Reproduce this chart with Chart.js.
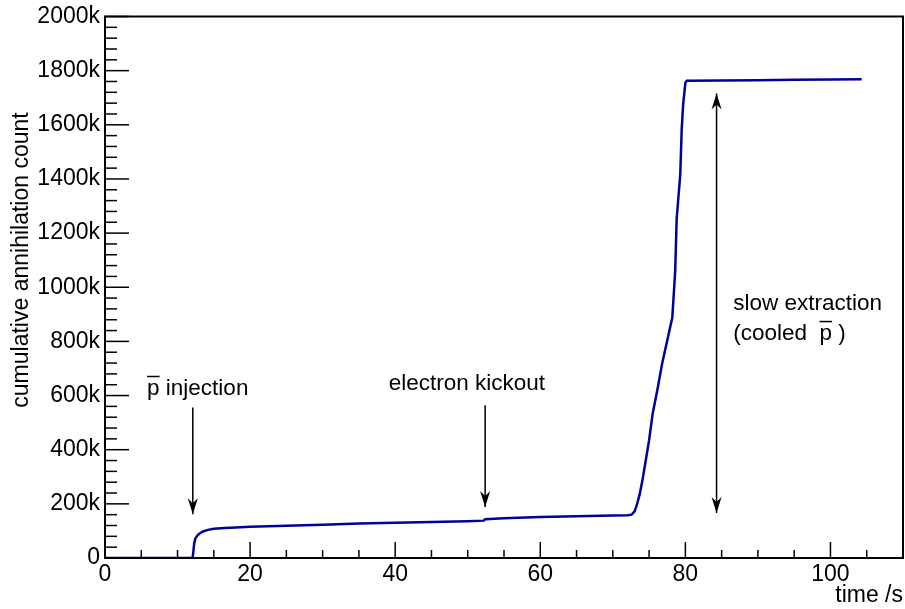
<!DOCTYPE html>
<html>
<head>
<meta charset="utf-8">
<script src="https://cdn.jsdelivr.net/npm/chart.js@4.4.1/dist/chart.umd.min.js"></script>
<style>
  html, body { margin: 0; padding: 0; background: #fff; }
  #wrap { width: 905px; height: 609px; }
</style>
</head>
<body>
<div id="wrap"><canvas id="myChart" width="905" height="609"></canvas></div>
<script>
// time in seconds, cumulative counts
const times = [0, 5, 10, 12.0, 12.1, 12.2, 12.3, 12.45, 12.7, 13.0, 13.5, 14.2, 15, 16.5, 18, 20, 25, 30, 35, 40, 45, 50, 52.2, 52.4, 55, 60, 65, 70, 72.0, 72.6, 73.0, 73.3, 73.7, 74.1, 74.6, 75.0, 75.5, 76.2, 76.8, 77.5, 78.2, 78.6, 78.8, 79.3, 79.5, 79.7, 80.0, 80.2, 85, 90, 95, 100, 104.3];
const countsK = [0, 0, 0, 0, 5, 30, 55, 72, 82, 90, 98, 104, 108, 111, 113, 115, 119, 123, 127, 130, 133, 136, 138, 143, 147, 151, 154, 157, 158, 160, 172, 195, 235, 290, 370, 435, 534, 630, 718, 803, 888, 1061, 1252, 1418, 1587, 1676, 1755, 1763, 1764, 1765, 1766, 1767, 1768];

const yTickValues = [0, 200000, 400000, 600000, 800000, 1000000, 1200000, 1400000, 1600000, 1800000, 2000000];

// arrows: x position and y range (data units)
const arrowX = [12.1, 52.4, 84.3];
const arrowFrom = [556000, 564000, 166000];
const arrowTo = [162000, 188000, 1716000];
const arrowDouble = [false, false, true];

const FONT = "'Liberation Sans', Arial, Helvetica, sans-serif";

const rootFrame = {
  id: 'rootFrame',
  afterDraw(chart) {
    const ctx = chart.ctx;
    const xs = chart.scales.x, ys = chart.scales.y;
    const a = chart.chartArea;
    ctx.save();
    ctx.strokeStyle = '#000';
    ctx.lineWidth = 2;
    ctx.strokeRect(a.left, a.top, a.right - a.left, a.bottom - a.top);

    // inward ticks, x
    ctx.lineWidth = 1.5;
    for (let v = 0; v <= 110; v += 5) {
      const px = xs.getPixelForValue(v);
      const len = v % 20 === 0 ? 16 : 8;
      ctx.beginPath();
      ctx.moveTo(px, a.bottom);
      ctx.lineTo(px, a.bottom - len);
      ctx.stroke();
    }
    // inward ticks, y
    for (let v = 0; v <= 2000000; v += 40000) {
      const py = ys.getPixelForValue(v);
      const len = v % 200000 === 0 ? 24 : 12;
      ctx.beginPath();
      ctx.moveTo(a.left, py);
      ctx.lineTo(a.left + len, py);
      ctx.stroke();
    }

    // y axis title
    ctx.fillStyle = '#000';
    ctx.save();
    ctx.translate(22, 260);
    ctx.rotate(-Math.PI / 2);
    ctx.font = '23px ' + FONT;
    ctx.textAlign = 'center';
    ctx.textBaseline = 'middle';
    ctx.fillText('cumulative annihilation count', 0, 0);
    ctx.restore();

    // arrows
    ctx.lineWidth = 1.5;
    const head = (x, y, dir) => {
      ctx.beginPath();
      ctx.moveTo(x, y);
      ctx.lineTo(x - 5, y - dir * 16);
      ctx.lineTo(x, y - dir * 11);
      ctx.lineTo(x + 5, y - dir * 16);
      ctx.closePath();
      ctx.fill();
    };
    for (let i = 0; i < arrowX.length; i++) {
      const px = xs.getPixelForValue(arrowX[i]);
      const y0 = ys.getPixelForValue(arrowFrom[i]);
      const y1 = ys.getPixelForValue(arrowTo[i]);
      ctx.beginPath();
      ctx.moveTo(px, y0);
      ctx.lineTo(px, y1);
      ctx.stroke();
      const dir = y1 > y0 ? 1 : -1;
      head(px, y1, dir);
      if (arrowDouble[i]) head(px, y0, -dir);
    }

    // labels
    ctx.font = '22.5px ' + FONT;
    ctx.textBaseline = 'middle';
    ctx.textAlign = 'left';
    const pbar = (x, y) => {
      ctx.fillText('p', x, y);
      const w = ctx.measureText('p').width;
      ctx.beginPath();
      ctx.lineWidth = 1.5;
      ctx.moveTo(x, y - 12);
      ctx.lineTo(x + w, y - 12);
      ctx.stroke();
      return w;
    };
    let tx = xs.getPixelForValue(5.8), ty = ys.getPixelForValue(626000);
    const pw = pbar(tx, ty);
    ctx.fillText(' injection', tx + pw, ty);

    ctx.fillText('electron kickout', xs.getPixelForValue(39.1), ys.getPixelForValue(645000));

    tx = xs.getPixelForValue(86.6);
    ctx.fillText('slow extraction', tx, ys.getPixelForValue(939000));
    ty = ys.getPixelForValue(829000);
    ctx.fillText('(cooled  ', tx, ty);
    const w1 = ctx.measureText('(cooled  ').width;
    const w2 = pbar(tx + w1, ty);
    ctx.fillText(' )', tx + w1 + w2, ty);
    ctx.restore();
  }
};

const ctx = document.getElementById('myChart').getContext('2d');
new Chart(ctx, {
  type: 'scatter',
  data: {
    datasets: [{
      data: times.map((t, i) => ({ x: t, y: countsK[i] * 1000 })),
      showLine: true,
      borderColor: '#00009a',
      borderWidth: 2.5,
      pointRadius: 0,
      tension: 0
    }]
  },
  options: {
    responsive: false,
    animation: false,
    layout: { padding: { top: 15, right: 2, left: 0, bottom: 0 } },
    plugins: { legend: { display: false }, tooltip: { enabled: false } },
    scales: {
      x: {
        type: 'linear',
        min: 0,
        max: 110,
        grid: { display: false, drawTicks: false, tickLength: 0 },
        border: { display: true, color: '#000', width: 2 },
        ticks: {
          stepSize: 20,
          includeBounds: false,
          color: '#000',
          padding: 3,
          maxRotation: 0,
          font: { family: FONT, size: 23 }
        },
        title: {
          display: true,
          text: 'time /s',
          align: 'end',
          color: '#000',
          padding: { top: 0, bottom: 0 },
          font: { family: FONT, size: 23 }
        },
        afterFit(scale) { scale.height = 51; }
      },
      y: {
        min: 0,
        max: 2000000,
        grid: { display: false, drawTicks: false, tickLength: 0 },
        border: { display: true, color: '#000', width: 2 },
        afterBuildTicks(scale) { scale.ticks = yTickValues.map(v => ({ value: v })); },
        ticks: {
          color: '#000',
          padding: 5,
          font: { family: FONT, size: 23, lineHeight: 1 },
          callback: v => v === 0 ? '0' : (v / 1000) + 'k'
        },
        afterFit(scale) { scale.width = 105; }
      }
    }
  },
  plugins: [rootFrame]
});
</script>
</body>
</html>
